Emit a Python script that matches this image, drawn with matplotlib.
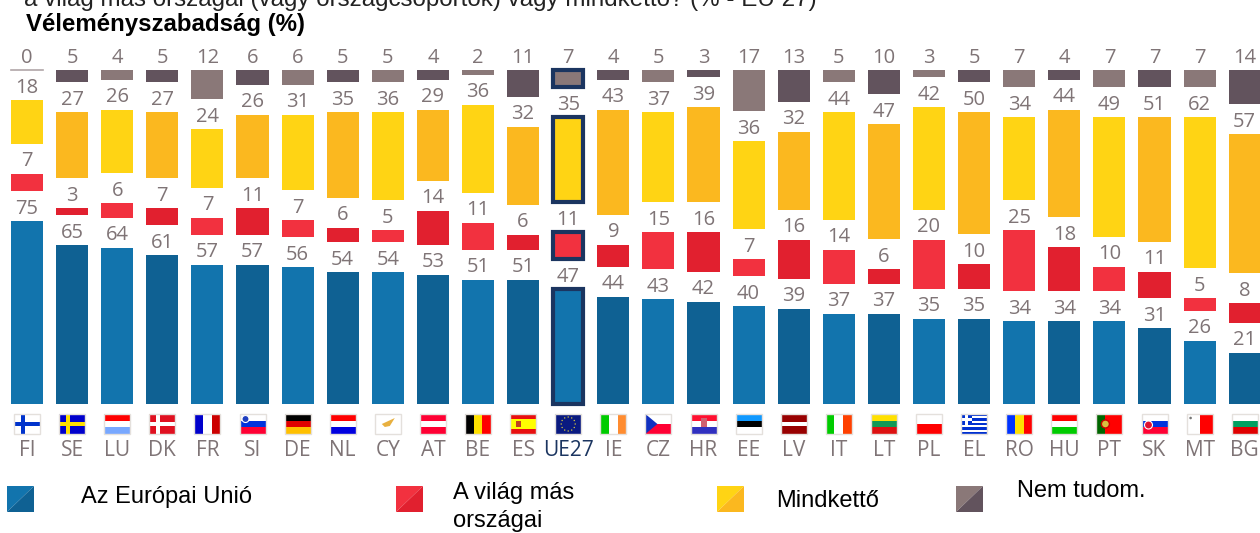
import numpy as np
import matplotlib
matplotlib.use("Agg")
import matplotlib.pyplot as plt
from matplotlib.patches import Rectangle, Polygon, Circle

codes = ['FI', 'SE', 'LU', 'DK', 'FR', 'SI', 'DE', 'NL', 'CY', 'AT', 'BE', 'ES', 'UE27', 'IE',
         'CZ', 'HR', 'EE', 'LV', 'IT', 'LT', 'PL', 'EL', 'RO', 'HU', 'PT', 'SK', 'MT', 'BG']
eu = [75, 65, 64, 61, 57, 57, 56, 54, 54, 53, 51, 51, 47, 44, 43, 42, 40, 39, 37, 37, 35, 35, 34, 34, 34, 31, 26, 21]
world = [7, 3, 6, 7, 7, 11, 7, 6, 5, 14, 11, 6, 11, 9, 15, 16, 7, 16, 14, 6, 20, 10, 25, 18, 10, 11, 5, 8]
both = [18, 27, 26, 27, 24, 26, 31, 35, 36, 29, 36, 32, 35, 43, 37, 39, 36, 32, 44, 47, 42, 50, 34, 44, 49, 51, 62, 57]
dontknow = [0, 5, 4, 5, 12, 6, 6, 5, 5, 4, 2, 11, 7, 4, 5, 3, 17, 13, 5, 10, 3, 5, 7, 4, 7, 7, 7, 14]

series_names = ['Az Európai Unió', 'A világ más\nországai', 'Mindkettő', 'Nem tudom.']
line1 = 'a világ más országai (vagy országcsoportok) vagy mindkettő? (% - EU 27)'
line2 = 'Véleményszabadság (%)'

# (light, dark) alternate from bar to bar
colors = [('#1274ad', '#0f6193'), ('#f2313f', '#e1202f'), ('#ffd414', '#fbb81f'), ('#8a7878', '#62535d')]
navy = '#1b3560'
grey_txt = '#7f7476'
sans = ['Open Sans', 'DejaVu Sans']

W, H = 1260, 533
PX_UNIT = 2.44   # px per percent
BASE = 404
GAP = 30 / PX_UNIT
X0, DX = 27, 45.1

fig = plt.figure(figsize=(W / 100, H / 100), dpi=100)
ax = fig.add_axes([0, 0, 1, 1])
ax.set_xlim(-X0 / DX, (W - X0) / DX)
ax.set_ylim((BASE - H) / PX_UNIT, BASE / PX_UNIT)
ax.axis('off')

# pixel overlay for the flags and legend
pix = fig.add_axes([0, 0, 1, 1])
pix.set_xlim(0, W)
pix.set_ylim(H, 0)
pix.axis('off')
pix.patch.set_alpha(0)

x = np.arange(len(codes))
bottom = np.zeros(len(codes))
for s, vals in enumerate([eu, world, both, dontknow]):
    vals = np.array(vals, dtype=float)
    cols = [colors[s][i % 2] for i in range(len(codes))]
    edge = [navy if c == 'UE27' else 'none' for c in codes]
    lw = [3 if c == 'UE27' else 0 for c in codes]
    widths = [0.66 if c == 'UE27' else 0.71 for c in codes]
    ax.bar(x, vals, widths, bottom=bottom, color=cols, edgecolor=edge, linewidth=lw, zorder=2)
    for i, v in enumerate(vals):
        ax.text(i, bottom[i] + v + 1.0, '%d' % v, ha='center', va='bottom', fontsize=14.5,
                color=grey_txt, family=sans)
    bottom = bottom + vals + GAP
ax.plot([-0.35, 0.35], [bottom[0] - GAP] * 2, color='#b0a6a8', lw=1.2)


def hstripes(cx, cols, top=414, h=20, w=26):
    n = len(cols)
    for k, c in enumerate(cols):
        pix.add_patch(Rectangle((cx - w / 2, top + k * h / n), w, h / n, fc=c, ec='none'))


def vstripes(cx, cols, top=414, h=20, w=26):
    n = len(cols)
    for k, c in enumerate(cols):
        pix.add_patch(Rectangle((cx - w / 2 + k * w / n, top), w / n, h, fc=c, ec='none'))


def cross(cx, bg, fg, top=414, h=20, w=26):
    pix.add_patch(Rectangle((cx - w / 2, top), w, h, fc=bg, ec='none'))
    pix.add_patch(Rectangle((cx - w / 2 + 7, top), 4, h, fc=fg, ec='none'))
    pix.add_patch(Rectangle((cx - w / 2, top + 8), w, 4, fc=fg, ec='none'))


stripes_h = {'LU': ['#ff0000', '#ffffff', '#78a8ff'], 'SI': ['#ffffff', '#0033dd', '#ff0033'],
             'DE': ['#000000', '#e00000', '#ffc000'], 'NL': ['#ff0000', '#ffffff', '#0000e0'],
             'AT': ['#ff0033', '#ffffff', '#ff0033'], 'ES': ['#e81010', '#ffff00', '#ffff00', '#e81010'],
             'HR': ['#ff1030', '#ffffff', '#3030c0'], 'EE': ['#1099ff', '#000000', '#ffffff'],
             'LV': ['#980000', '#980000', '#ffffff', '#980000', '#980000'],
             'LT': ['#ffe000', '#119955', '#dd1111'], 'PL': ['#ffffff', '#ff0000'],
             'HU': ['#ff0000', '#ffffff', '#00cc00'], 'SK': ['#ffffff', '#0033dd', '#ff0033'],
             'BG': ['#ffffff', '#00a060', '#e00000'], 'CZ': ['#ffffff', '#ff0033']}
stripes_v = {'FR': ['#0000cc', '#ffffff', '#cc0000'], 'BE': ['#000000', '#ffe000', '#ff0000'],
             'IE': ['#00cc00', '#ffffff', '#ff8c30'], 'IT': ['#00cc00', '#ffffff', '#ff4000'],
             'RO': ['#0033ff', '#ffe000', '#ff0000'], 'MT': ['#ffffff', '#ff0000'],
             'PT': ['#006600', '#ff0000', '#ff0000']}

for i, c in enumerate(codes):
    cx = X0 + i * DX
    if c in stripes_h:
        hstripes(cx, stripes_h[c])
    elif c in stripes_v:
        vstripes(cx, stripes_v[c])
    elif c == 'FI':
        cross(cx, '#ffffff', '#0033cc')
    elif c == 'SE':
        cross(cx, '#0000cc', '#ffe000')
    elif c == 'DK':
        cross(cx, '#e01020', '#ffffff')
    elif c == 'CY':
        pix.add_patch(Polygon([[cx - 6, 424], [cx + 7, 418], [cx + 2, 426], [cx - 3, 427]], fc='#e8b040', ec='none'))
    elif c == 'EL':
        hstripes(cx, ['#0030d0', '#ffffff'] * 4 + ['#0030d0'])
        pix.add_patch(Rectangle((cx - 13, 414), 11, 11, fc='#0030d0', ec='none'))
        pix.add_patch(Rectangle((cx - 9, 414), 3, 11, fc='#ffffff', ec='none'))
        pix.add_patch(Rectangle((cx - 13, 418), 11, 3, fc='#ffffff', ec='none'))
    elif c == 'UE27':
        pix.add_patch(Rectangle((cx - 13, 414), 26, 20, fc='#0a1a80', ec='none'))
        for a in np.arange(0, 2 * np.pi, np.pi / 6):
            pix.add_patch(Circle((cx + 7 * np.cos(a), 424 + 7 * np.sin(a)), 0.7, fc='#d8c840', ec='none'))
    if c == 'CZ':
        pix.add_patch(Polygon([[cx - 13, 414], [cx - 1, 424], [cx - 13, 434]], fc='#1030c0', ec='none'))
    if c == 'MT':
        pix.add_patch(Circle((cx - 9, 418), 1.3, fc='#777777', ec='none'))
    if c == 'PT':
        pix.add_patch(Circle((cx - 4, 424), 4, fc='#d8c040', ec='#cc0000', lw=1))
    if c == 'ES':
        pix.add_patch(Rectangle((cx - 7, 421), 5, 6, fc='#c04020', ec='none'))
    if c == 'HR':
        pix.add_patch(Rectangle((cx - 3, 418), 6, 9, fc='#d06070', ec='none'))
    if c == 'SI':
        pix.add_patch(Circle((cx - 7, 419), 3.5, fc='#2040c0', ec='#ffffff', lw=0.8))
    if c == 'SK':
        pix.add_patch(Circle((cx - 6, 425), 4, fc='#e01030', ec='#ffffff', lw=0.8))
    pix.add_patch(Rectangle((cx - 13, 414), 26, 20, fc='none', ec='#e4e0dc', lw=1))
    pix.text(cx, 451, c, ha='center', va='center', fontsize=15, family=sans,
             color=navy if c == 'UE27' else grey_txt)

# legend
for name, col, sx, tx, ty in zip(series_names, colors, [7, 396, 717, 956], [81, 453, 776, 1017], [497, 507, 501, 491]):
    pix.add_patch(Polygon([[sx, 486], [sx + 27, 486], [sx, 512]], fc=col[0], ec='none'))
    pix.add_patch(Polygon([[sx + 27, 486], [sx + 27, 512], [sx, 512]], fc=col[1], ec='none'))
    pix.text(tx, ty, name, ha='left', va='center', fontsize=17, family='Liberation Sans',
             color='black', linespacing=1.3)

pix.text(24, 0, line1, ha='left', va='center', fontsize=17.4, family='Liberation Sans', color='#222222')
pix.text(26, 25, line2, ha='left', va='center', fontsize=17.3, family='Liberation Sans', weight='bold', color='black')

fig.savefig('out.png', dpi=100)
